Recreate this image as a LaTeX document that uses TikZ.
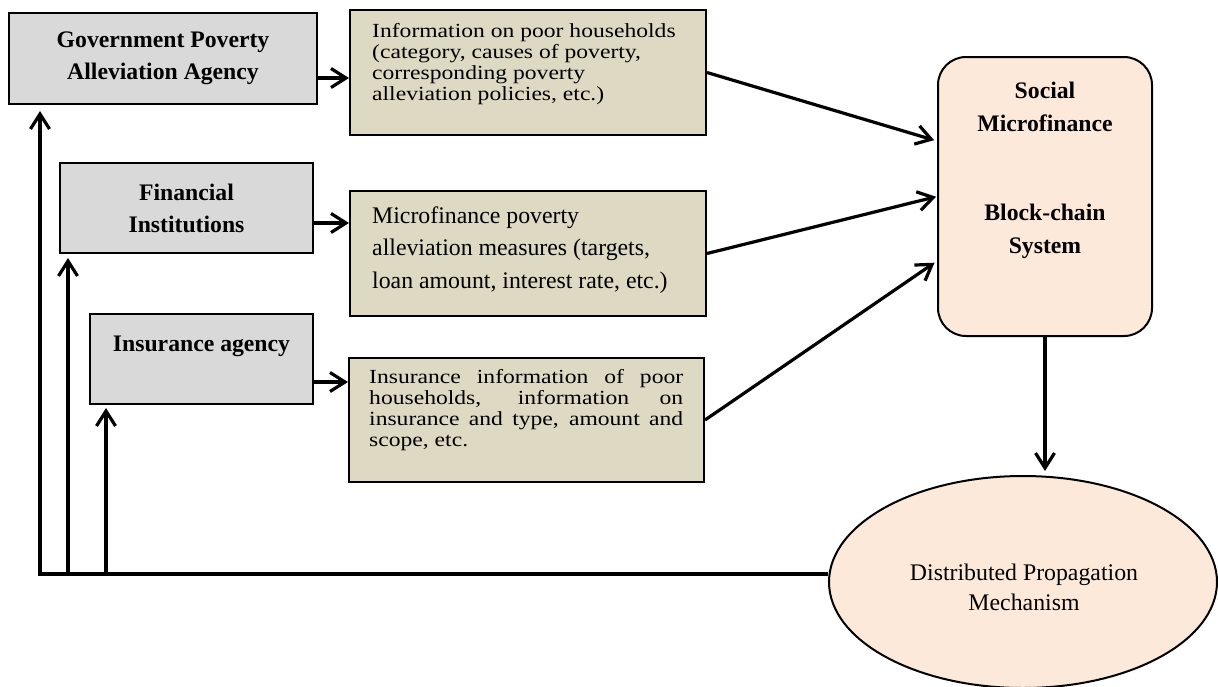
\documentclass[tikz,border=0pt]{standalone}
\usepackage{fontspec}
\setmainfont{Liberation Serif}
\newfontfamily\widefont{Liberation Serif}[FakeStretch=1.18]
\usetikzlibrary{arrows.meta,shapes.geometric,calc}
\definecolor{graybox}{HTML}{D9D9D9}
\definecolor{tanbox}{HTML}{DDD9C3}
\definecolor{peach}{HTML}{FDE9D9}
\begin{document}
\begin{tikzpicture}[x=1pt,y=-1pt,
  agency/.style={draw, line width=2pt, fill=graybox, inner sep=0pt, align=center,
    font=\fontsize{23.7}{32}\selectfont\bfseries},
  info/.style={draw, line width=2pt, fill=tanbox, inner sep=0pt},
  infotext/.style={anchor=north west, inner sep=0pt, align=left},
  boldtext/.style={inner sep=0pt, align=center, font=\fontsize{23.7}{33}\selectfont\bfseries},
  conn/.style={line width=3.2pt, -{Straight Barb[length=15pt,width=19pt]}},
  plainline/.style={line width=3.2pt}]
\useasboundingbox (0,0) rectangle (1218,686);

% left agencies
\node[agency, minimum width=308pt, minimum height=91pt] (gov) at (163,58.5)
  {Government Poverty\\Alleviation Agency};
\node[agency, minimum width=253pt, minimum height=90pt] (fin) at (186.5,208)
  {Financial\\Institutions};
\node[agency, minimum width=223pt, minimum height=90pt] (ins) at (201.5,359) {};
\node[boldtext] (insT) at (201.5,346) {Insurance agency};

% information boxes
\node[info, minimum width=356pt, minimum height=125pt] (inf1) at (528,72.5) {};
\node[infotext, font=\widefont\fontsize{20}{21}\selectfont] (inf1T) at (372,23)
  {Information on poor households\\(category, causes of poverty,\\corresponding poverty\\alleviation policies, etc.)};

\node[info, minimum width=356pt, minimum height=125pt] (inf2) at (528,253.5) {};
\node[infotext, font=\fontsize{23.8}{32.5}\selectfont] (inf2T) at (372,206.5)
  {Microfinance poverty\\alleviation measures (targets,\\loan amount, interest rate, etc.)};

\node[info, minimum width=355pt, minimum height=124pt] (inf3) at (526.5,420) {};
\node[infotext, font=\widefont\fontsize{20}{21}\selectfont] (inf3T) at (369,369.5)
  {\makebox[314pt][s]{Insurance information of poor}\\
   \makebox[314pt][s]{households, information on}\\
   \makebox[314pt][s]{insurance and type, amount and}\\
   scope, etc.};

% blockchain system
\node[draw, line width=2pt, fill=peach, rounded corners=28pt,
  minimum width=214pt, minimum height=279pt] (soc) at (1045,196.5) {};
\node[boldtext] (socT) at (1045,170)
  {Social\\Microfinance\\[56pt]Block-chain\\System};

% distributed propagation
\node[draw, line width=2pt, fill=peach, ellipse, inner sep=0pt,
  minimum width=388pt, minimum height=212pt] (dpm) at (1023,582) {};
\node[inner sep=0pt, align=center, font=\fontsize{23.8}{30}\selectfont] (dpmT) at (1024,587)
  {Distributed Propagation\\Mechanism};

% arrows agency -> info
\draw[conn] ([yshift=-19.5pt]gov.east) -- ([yshift=-19.5pt]gov.east -| inf1.west);
\draw[conn] ([yshift=-15pt]fin.east) -- ([yshift=-15pt]fin.east -| inf2.west);
\draw[conn] ([yshift=-23pt]ins.east) -- ([yshift=-23pt]ins.east -| inf3.west);

% arrows info -> system
\draw[conn, shorten >=3pt] (inf1.east) -- ([yshift=55.5pt]soc.west);
\draw[conn, shorten >=1pt] (inf2.east) -- (soc.west);
\draw[conn, shorten >=3pt] (inf3.east) -- ([yshift=-64.5pt]soc.west);

% system -> propagation
\draw[conn, shorten >=4pt] (soc.south) -- (soc.south |- dpm.north);

% feedback
\coordinate (fb1) at (40,574);
\coordinate (fb2) at (68,574);
\coordinate (fb3) at (106,574);
\draw[conn, shorten >=6pt] (fb1 -| dpm.west) -- (fb1) -- (fb1 |- gov.south);
\draw[conn, shorten >=4pt] (fb2) -- (fb2 |- fin.south);
\draw[conn, shorten >=3pt] (fb3) -- (fb3 |- ins.south);
\end{tikzpicture}
\end{document}
